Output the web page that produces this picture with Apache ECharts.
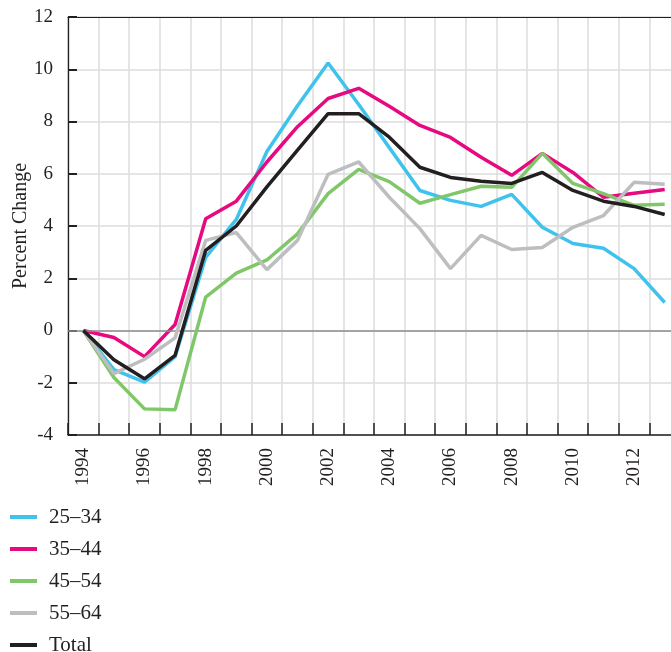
<!DOCTYPE html>
<html>
<head>
<meta charset="utf-8">
<script src="https://cdn.jsdelivr.net/npm/echarts@6/dist/echarts.min.js"></script>
<style>
html,body{margin:0;padding:0;background:#fff;}
#chart{width:671px;height:652px;}
</style>
</head>
<body>
<div id="chart"></div>
<script>
var years = ['1994','1995','1996','1997','1998','1999','2000','2001','2002','2003','2004','2005','2006','2007','2008','2009','2010','2011','2012','2013'];
var age25_34 = [0,-1.5,-1.98,-1.0,2.8,4.25,6.85,8.6,10.24,8.65,7.0,5.36,4.98,4.75,5.21,3.95,3.33,3.15,2.37,1.07];
var age35_44 = [0,-0.27,-1.0,0.23,4.28,4.95,6.45,7.8,8.88,9.27,8.58,7.85,7.39,6.63,5.94,6.78,6.05,5.1,5.25,5.4];
var age45_54 = [0,-1.8,-3.0,-3.03,1.28,2.2,2.7,3.7,5.24,6.17,5.7,4.87,5.2,5.52,5.48,6.78,5.63,5.24,4.79,4.83];
var age55_64 = [0,-1.65,-1.1,-0.28,3.45,3.75,2.33,3.45,5.98,6.45,5.1,3.9,2.37,3.64,3.1,3.18,3.95,4.4,5.67,5.6];
var total    = [0,-1.12,-1.85,-0.95,3.07,4.0,5.5,6.9,8.3,8.3,7.4,6.25,5.86,5.71,5.63,6.05,5.36,4.95,4.75,4.44];
var seriesNames = ['25\u201334','35\u201344','45\u201354','55\u201364','Total'];
var seriesColors = ['#3FC3EC','#E6097F','#80C76A','#BDBEC0','#231F20'];
var seriesData = [age25_34, age35_44, age45_54, age55_64, total];

var font = 'Liberation Serif';
var txt = '#231F20';
var series = seriesNames.map(function(n, i){
  return {
    name: n, type: 'line', data: seriesData[i], symbol: 'none',
    lineStyle: {width: 3.5, color: seriesColors[i]},
    itemStyle: {color: seriesColors[i]},
    z: 3 + i
  };
});
series.push({
  name: 'zero', type: 'line', data: [], z: 2, silent: true,
  markLine: {silent: true, symbol: 'none', label: {show: false},
    lineStyle: {color: '#8E8E8E', width: 1.5, type: 'solid'},
    data: [{yAxis: 0}]}
});

var chart = echarts.init(document.getElementById('chart'));
chart.setOption({
  animation: false,
  backgroundColor: '#fff',
  grid: {left: 68, top: 17, right: -9, bottom: 217, containLabel: false, outerBoundsMode: 'none'},
  legend: {
    data: seriesNames, orient: 'vertical', left: 10, top: 506.5, height: 170, padding: 0,
    icon: 'rect', itemWidth: 27, itemHeight: 4, itemGap: 11,
    textStyle: {fontFamily: font, fontSize: 21, color: txt, padding: [0,0,0,7]}
  },
  xAxis: [{
    type: 'category', data: years, boundaryGap: true,
    axisLine: {show: true, onZero: false, lineStyle: {color: txt, width: 1.5}},
    axisTick: {show: true, inside: true, length: 12, interval: 0, lineStyle: {color: txt, width: 1.5}},
    axisLabel: {interval: 1, rotate: 90, margin: 13, fontFamily: font, fontSize: 19, color: txt},
    splitLine: {show: true, interval: 0, lineStyle: {color: '#DCDCDC', width: 1.5}}
  },{
    type: 'category', data: years, position: 'top', boundaryGap: true,
    axisLine: {show: true, onZero: false, lineStyle: {color: txt, width: 1.2}},
    axisTick: {show: false}, axisLabel: {show: false}, splitLine: {show: false}
  }],
  yAxis: {
    type: 'value', min: -4, max: 12, interval: 2,
    name: 'Percent Change', nameLocation: 'middle', nameRotate: 90, nameGap: 37,
    nameMoveOverlap: false,
    nameTextStyle: {fontFamily: font, fontSize: 20, color: txt},
    axisLine: {show: true, onZero: false, lineStyle: {color: txt, width: 1.3}},
    axisTick: {show: true, inside: true, length: 9, lineStyle: {color: txt, width: 2}},
    axisLabel: {margin: 15, fontFamily: font, fontSize: 19, color: txt},
    splitLine: {show: true, lineStyle: {color: '#DCDCDC', width: 1.5}}
  },
  series: series
});
</script>
</body>
</html>
